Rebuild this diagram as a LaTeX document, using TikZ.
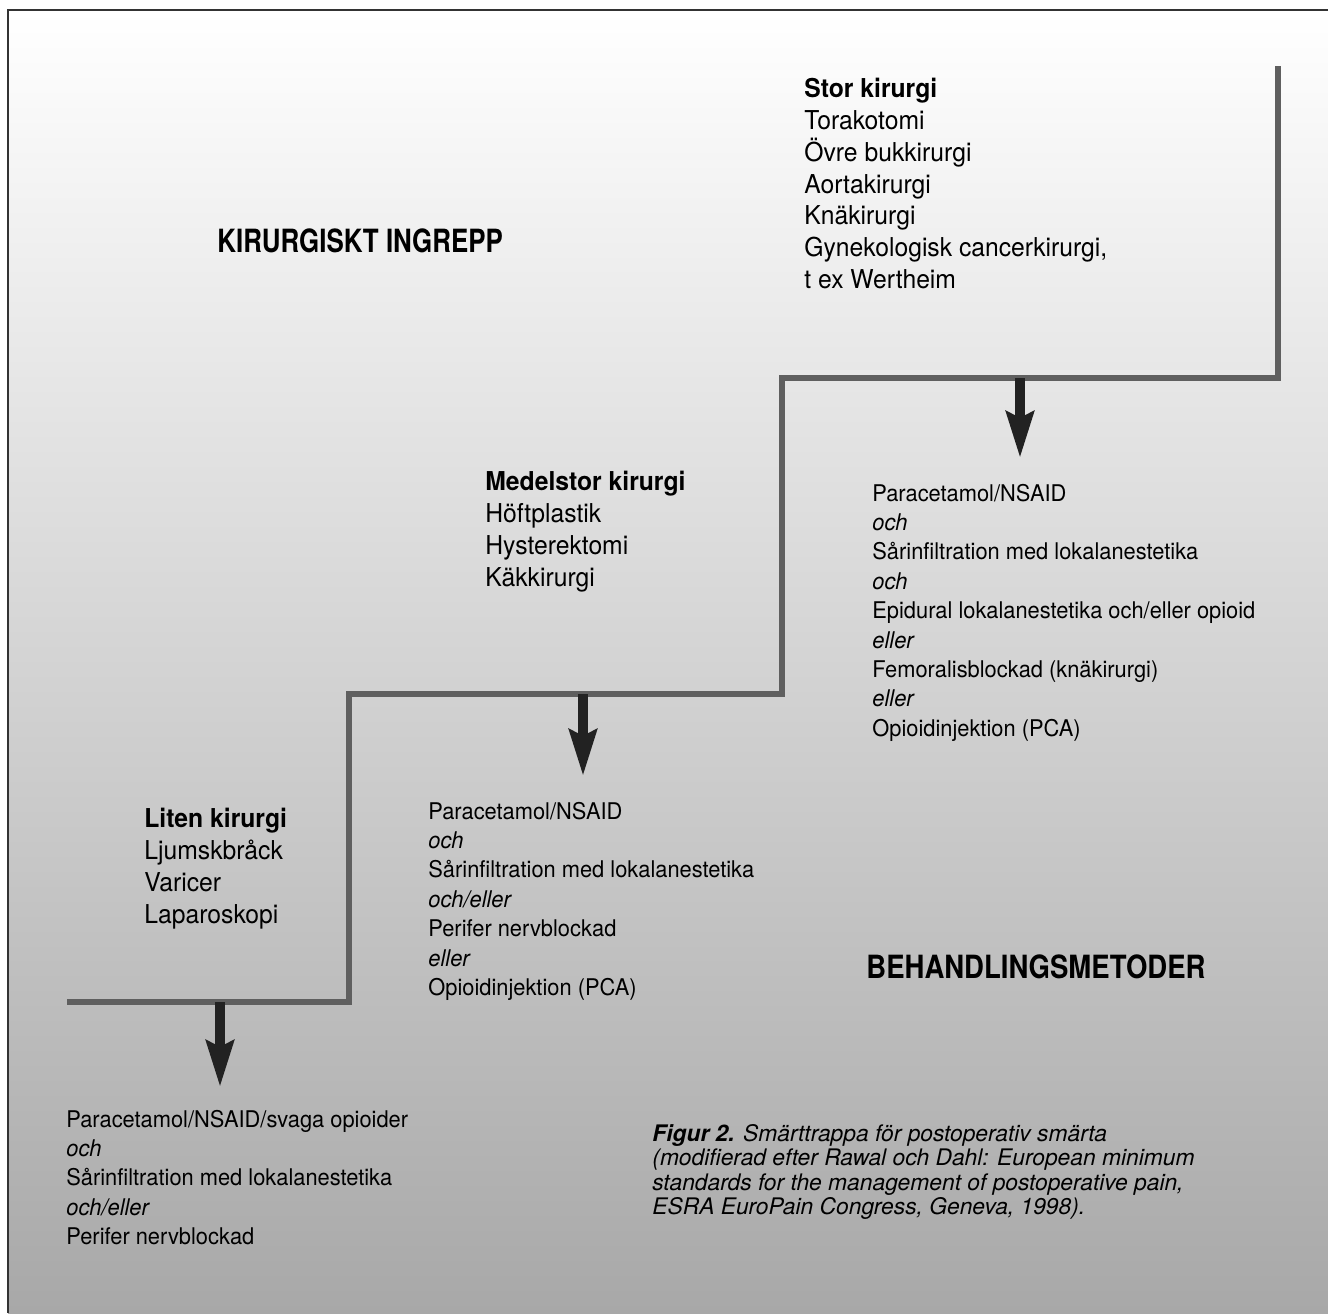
\documentclass[tikz,border=0pt]{standalone}
\usepackage{fontspec}
\setmainfont{TeX Gyre Heros}[FakeStretch=0.95]
\newfontfamily\headfont{TeX Gyre Heros}[FakeStretch=0.81]
\newfontfamily\headwidefont{TeX Gyre Heros}[FakeStretch=0.86]
\newfontfamily\capfont{TeX Gyre Heros}
\usetikzlibrary{arrows.meta}
\definecolor{stairgray}{RGB}{95,95,95}
\definecolor{arrowblack}{RGB}{34,34,34}
\definecolor{bottomgray}{RGB}{168,168,168}
\newcommand{\ingrepp}[4]{%
 \node[ingreppbox] ({#1}) at ({#2}) {\textbf{#3}\\#4};%
}
\newcommand{\behandling}[3]{%
 \node[behbox] ({#1}) at ({#2}) {#3};%
}
\tikzset{
 ingreppbox/.style={anchor=north west, inner sep=0pt, align=left, font=\fontsize{13}{15.9}\selectfont},
 behbox/.style={anchor=north west, inner sep=0pt, align=left, font=\fontsize{11.5}{14.7}\selectfont},
 rubrik/.style={anchor=west, inner sep=0pt, font=\headfont\bfseries\fontsize{16}{19}\selectfont},
 pil/.style={draw=arrowblack, line width=5pt, -{Stealth[length=23pt, width=13.5pt, inset=3pt, fill=arrowblack]}},
 trappa/.style={draw=stairgray, line width=2.75pt}
}

\begin{document}
\begin{tikzpicture}[x=0.5pt, y=-0.5pt]
  \useasboundingbox (0,0) rectangle (1328,1313);
  \shade[top color=white, bottom color=bottomgray] (8,10) rectangle (1328,1313);
  \draw[line width=0.75pt, black!80] (1328,10) -- (8,10) -- (8,1313);
  \coordinate (b0) at (67,1002);
  \coordinate (b1) at (349,1002);
  \coordinate (m0) at (349,694);
  \coordinate (m1) at (782,694);
  \coordinate (h0) at (782,378);
  \coordinate (h1) at (1278,378);
  \coordinate (h2) at (1278,66);
  \draw[trappa] (b0) -- (b1) -- (m0) -- (m1) -- (h0) -- (h1) -- (h2);
  \node[rubrik] (ingrepp) at (217,241) {KIRURGISKT INGREPP};
  \node[rubrik, font=\headwidefont\bfseries\fontsize{16}{19}\selectfont] (metoder) at (866,967) {BEHANDLINGSMETODER};
  \ingrepp{stor}{804,78}{Stor kirurgi}{Torakotomi\\Övre bukkirurgi\\Aortakirurgi\\Knäkirurgi\\Gynekologisk cancerkirurgi,\\t ex Wertheim};
  \ingrepp{medel}{485,471}{Medelstor kirurgi}{Höftplastik\\Hysterektomi\\Käkkirurgi};
  \ingrepp{liten}{144,808}{Liten kirurgi}{Ljumskbråck\\Varicer\\Laparoskopi};
  \behandling{bstor}{872,483.5}{Paracetamol/NSAID\\\textit{och}\\Sårinfiltration med lokalanestetika\\\textit{och}\\Epidural lokalanestetika och/eller opioid\\\textit{eller}\\Femoralisblockad (knäkirurgi)\\\textit{eller}\\Opioidinjektion (PCA)};
  \behandling{bmedel}{428,801.5}{Paracetamol/NSAID\\\textit{och}\\Sårinfiltration med lokalanestetika\\\textit{och/eller}\\Perifer nervblockad\\\textit{eller}\\Opioidinjektion (PCA)};
  \behandling{bliten}{66,1109.5}{Paracetamol/NSAID/svaga opioider\\\textit{och}\\Sårinfiltration med lokalanestetika\\\textit{och/eller}\\Perifer nervblockad};
  \coordinate (p1) at (220,1002);
  \coordinate (q1) at (220,1087);
  \coordinate (p2) at (583,694);
  \coordinate (q2) at (583,776);
  \coordinate (p3) at (1020,378);
  \coordinate (q3) at (1020,458);
  \draw[pil] (p1) -- (q1);
  \draw[pil] (p2) -- (q2);
  \draw[pil] (p3) -- (q3);
  \node[anchor=north west, inner sep=0pt, align=left, font=\capfont\itshape\fontsize{11.4}{12.2}\selectfont] (figur) at (652,1124) {\textbf{Figur 2.} Smärttrappa för postoperativ smärta\\(modifierad efter Rawal och Dahl: European minimum\\standards for the management of postoperative pain,\\ESRA EuroPain Congress, Geneva, 1998).};
\end{tikzpicture}
\end{document}
